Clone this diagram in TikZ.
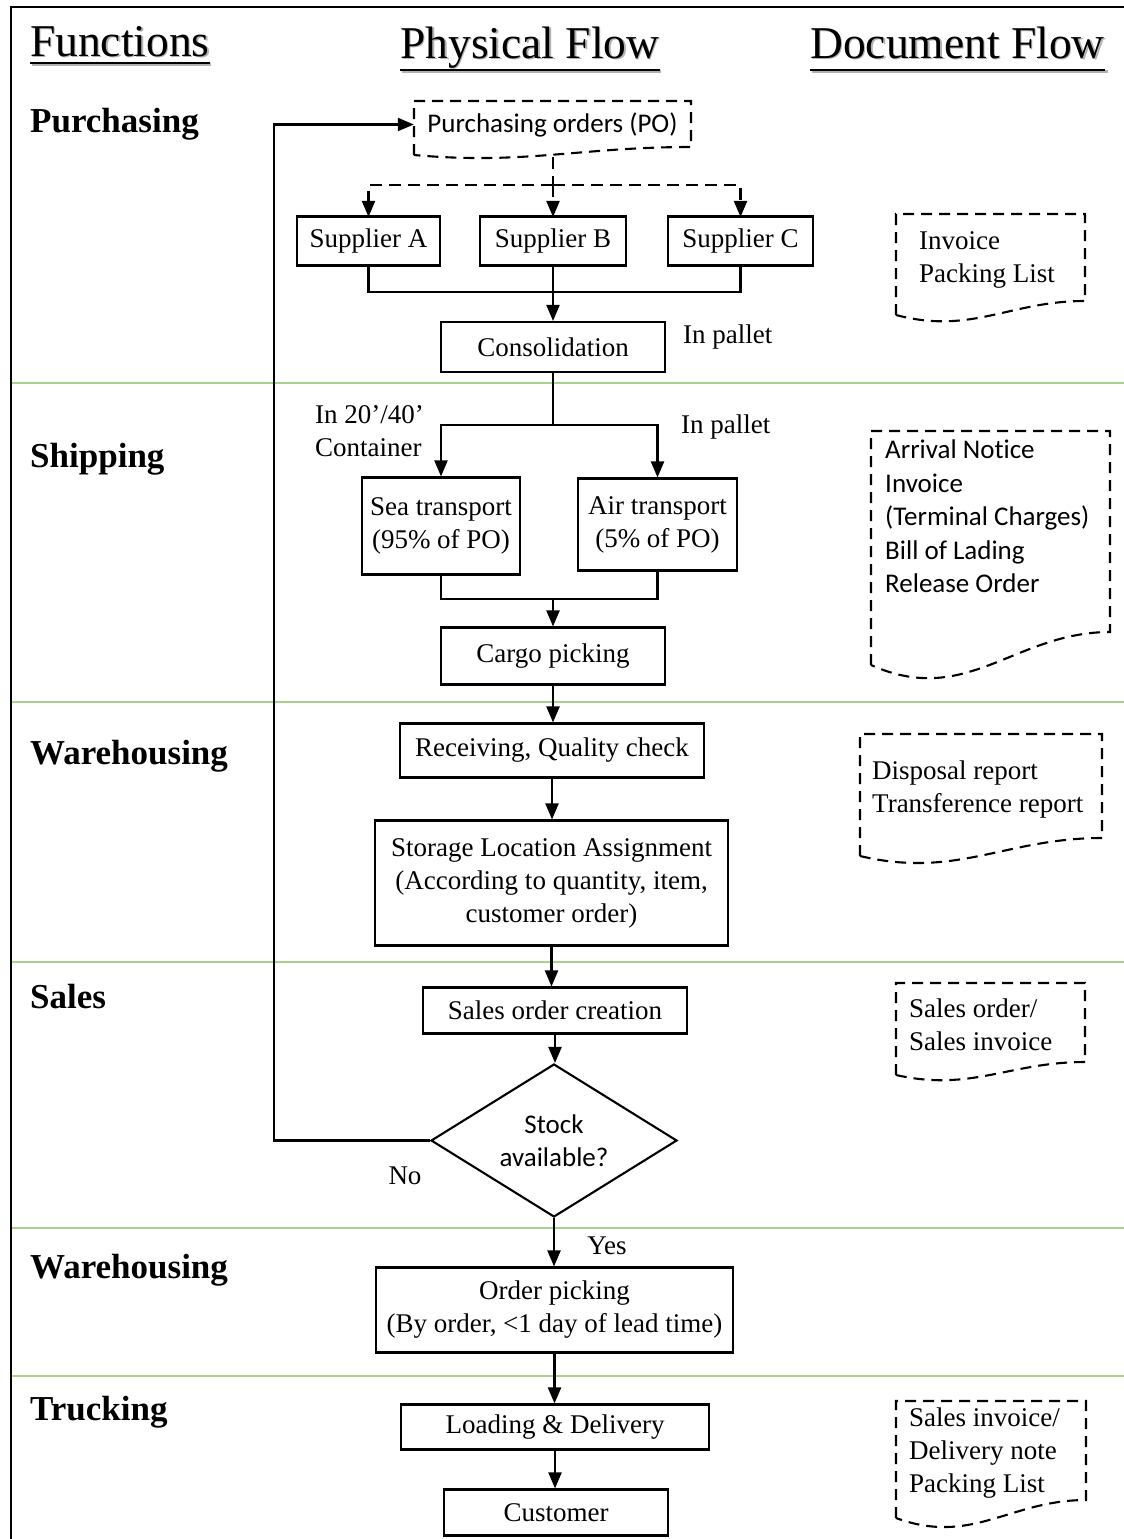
\documentclass[tikz,border=0pt]{standalone}
\usepackage{fontspec}
\setmainfont{Liberation Serif}
\newfontfamily\calib[Ligatures=NoCommon]{Carlito}
\usetikzlibrary{arrows.meta,shapes.geometric}

\definecolor{lanegreen}{RGB}{169,209,142}
\newcommand\bodyfont{\fontsize{27}{33}\selectfont}
\newcommand\calfont{\calib\fontsize{27}{33.5}\selectfont}
\newcommand\headfont{\fontsize{45.5}{50}\selectfont}
\newcommand\funcfont{\bfseries\fontsize{35}{40}\selectfont}

% dashed document symbol: left, top, right, right-bottom y, left-bottom y, wave depth
\newcommand\docbox[6]{%
  \draw[docline] (#1,#5) -- (#1,#2) -- (#3,#2) -- (#3,#4)
    .. controls ({#3-0.4*(#3-#1)},#4) and ({#1+0.4*(#3-#1)},{#5+#6}) .. (#1,#5);}

\tikzset{
  box/.style={draw, line width=2.1pt, inner sep=0pt, align=center, font=\bodyfont},
  link/.style={line width=2.1pt},
  arr/.style={link, -{Triangle[length=16pt,width=13pt]}},
  darr/.style={arr, dash pattern=on 12pt off 7pt},
  dlink/.style={link, dash pattern=on 12pt off 7pt},
  docline/.style={line width=2.1pt, dash pattern=on 11pt off 7pt},
  lane/.style={draw=lanegreen, line width=1.3pt},
  head/.style={font=\headfont, inner sep=0pt, anchor=base west},
  headshadow/.style={head, text=black!30},
  func/.style={font=\funcfont, inner sep=0pt, anchor=base west},
  doctext/.style={font=\bodyfont, align=left, anchor=west, inner sep=0pt},
  caltext/.style={font=\calfont, align=left, anchor=west, inner sep=0pt},
  lbl/.style={font=\bodyfont, inner sep=0pt}
}

\begin{document}
\begin{tikzpicture}[x=1pt,y=-1pt]
\useasboundingbox (0,0) rectangle (1124,1539);

% frame
\draw[line width=2.4pt] (11,1545) -- (11,7) -- (1130,7);

% lane separators
\foreach \yy in {383,702,962,1228,1376}
  \draw[lane] (12,\yy) -- (1124,\yy);

% column headings (with soft shadow)
\node[headshadow] at (31.5,57.5) {Functions};
\draw[line width=2.2pt, black!30] (31.5,64.5) -- (210.5,64.5);
\node[head] (hfun) at (30,56) {Functions};
\draw[line width=2.2pt] ([yshift=-7pt]hfun.base west) -- ([yshift=-7pt]hfun.base east);

\node[headshadow] at (401.5,59.5) {Physical Flow};
\draw[line width=2.2pt, black!30] (401.5,71.5) -- (660.5,71.5);
\node[head] (hphys) at (400,58) {Physical Flow};
\draw[line width=2.2pt] ([yshift=-12pt]hphys.base west) -- ([yshift=-12pt]hphys.base east);

\node[headshadow] at (811.5,59.5) {Document Flow};
\draw[line width=2.2pt, black!30] (811.5,71.5) -- (1107.5,71.5);
\node[head] (hdoc) at (810,58) {Document Flow};
\draw[line width=2.2pt] ([yshift=-12pt]hdoc.base west) -- ([yshift=-12pt]hdoc.base east);

% function labels
\node[func] (fpur) at (30,132) {Purchasing};
\node[func] (fship) at (30,467) {Shipping};
\node[func] (fwh1) at (30,764) {Warehousing};
\node[func] (fsal) at (30,1008) {Sales};
\node[func] (fwh2) at (30,1278) {Warehousing};
\node[func] (ftru) at (30,1420) {Trucking};

% purchasing order document
\docbox{414}{101}{691}{147}{155}{10}
\node[inner sep=0pt, minimum width=277pt, minimum height=46pt, font=\calfont] (po) at (552.5,124.5) {Purchasing orders (PO)};
\coordinate (pob) at (553,157);

% physical flow boxes
\node[box, minimum width=143pt, minimum height=49pt] (suppA) at (368.5,241) {Supplier A};
\node[box, minimum width=146pt, minimum height=49pt] (suppB) at (553,241) {Supplier B};
\node[box, minimum width=145pt, minimum height=49pt] (suppC) at (740.5,241) {Supplier C};
\node[box, minimum width=224pt, minimum height=50pt] (consol) at (553,347) {Consolidation};
\node[box, minimum width=158pt, minimum height=97pt] (sea) at (441,526) {Sea transport\\(95\% of PO)};
\node[box, minimum width=159pt, minimum height=92pt] (air) at (657.5,524.5) {Air transport\\(5\% of PO)};
\node[box, minimum width=224pt, minimum height=57pt] (cargo) at (553,656) {Cargo picking};
\node[box, minimum width=304pt, minimum height=54pt] (recv) at (552,750.5) {Receiving, Quality check};
\node[box, minimum width=353pt, minimum height=125pt] (stor) at (551.5,883) {Storage Location Assignment\\(According to quantity, item,\\customer order)};
\node[box, minimum width=264pt, minimum height=46pt] (sord) at (555,1010.5) {Sales order creation};
\node[diamond, draw, line width=2.1pt, inner sep=0pt, aspect=1.6, minimum width=246pt, minimum height=153pt, align=center, font=\calfont] (stock) at (554,1140.5) {Stock\\available?};
\node[box, minimum width=357pt, minimum height=85pt] (opick) at (554.5,1310) {Order picking\\(By order, <1 day of lead time)};
\node[box, minimum width=308pt, minimum height=45pt] (load) at (555,1427) {Loading \& Delivery};
\node[box, minimum width=224pt, minimum height=46pt] (cust) at (556,1512.5) {Customer};

% flow labels
\node[lbl, anchor=west] (lpal1) at (683,337) {In pallet};
\node[lbl, anchor=west, align=left] (lcont) at (315,431) {In 20’/40’\\Container};
\node[lbl, anchor=west] (lpal2) at (681,427) {In pallet};
\node[lbl] (lno) at (405,1176) {No};
\node[lbl] (lyes) at (607,1246) {Yes};

% purchasing order to suppliers
\coordinate (split1) at (553,185);
\draw[dlink] (pob) -- (split1);
\draw[darr] (split1) -| ([yshift=-1.5pt]suppA.north);
\draw[darr] (split1) -| ([yshift=-1.5pt]suppC.north);
\draw[darr] (split1) -- ([yshift=-1.5pt]suppB.north);

% suppliers to consolidation
\coordinate (merge1) at (553,292);
\draw[link] (suppA.south) |- (merge1);
\draw[link] (suppC.south) |- (merge1);
\draw[arr] (suppB.south) -- (consol.north);

% consolidation to transport
\coordinate (split2) at (553,425);
\draw[link] (consol.south) -- (split2);
\draw[arr] (split2) -| (sea.north);
\draw[arr] (split2) -| (air.north);

% transport to cargo picking
\coordinate (merge2) at (553,599);
\draw[link] (sea.south) |- (merge2);
\draw[link] (air.south) |- (merge2);
\draw[arr] (merge2) -- (cargo.north);

% main chain
\draw[arr] (cargo.south) -- (cargo.south |- recv.north);
\draw[arr] (recv.south) -- (recv.south |- stor.north);
\draw[arr] (stor.south) -- (stor.south |- sord.north);
\draw[arr] (sord.south) -- (sord.south |- stock.north);
\draw[arr] (stock.south) -- (stock.south |- opick.north);
\draw[arr] (opick.south) -- (opick.south |- load.north);
\draw[arr] (load.south) -- (load.south |- cust.north);

% reorder loop
\coordinate (loop) at (274,1140.5);
\draw[arr] (stock.west) -- (loop) |- (po.west);

% document flow
\docbox{896}{214}{1085}{301}{315}{20}
\node[doctext] (dinv) at (919,260) {Invoice\\Packing List};

\docbox{871}{431}{1110}{632}{665}{43}
\node[caltext] (darr) at (885,516.5) {Arrival Notice\\Invoice\\(Terminal Charges)\\Bill of Lading\\Release Order};

\docbox{860}{734}{1102}{838}{856}{23}
\node[doctext] (ddisp) at (872,789) {Disposal report\\Transference report};

\docbox{896}{983}{1085}{1062}{1075}{17}
\node[doctext] (dsal) at (909,1024.5) {Sales order/\\Sales invoice};

\docbox{896}{1401}{1086}{1500}{1518}{28}
\node[doctext] (ddel) at (909,1453.5) {Sales invoice/\\Delivery note\\Packing List};

\end{tikzpicture}
\end{document}
